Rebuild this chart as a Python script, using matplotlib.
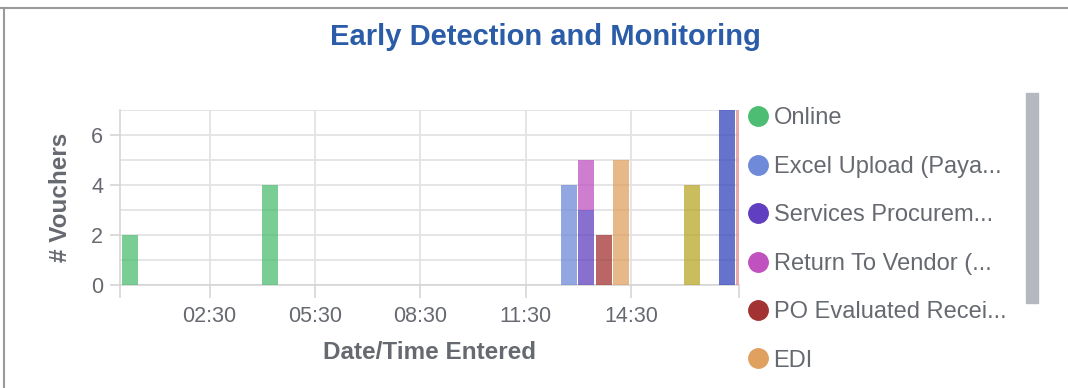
import matplotlib
matplotlib.use('Agg')
import matplotlib.pyplot as plt
from matplotlib.lines import Line2D
from matplotlib.ticker import FixedLocator, FuncFormatter

plt.rcParams['font.family'] = ['Liberation Sans', 'DejaVu Sans']

# vouchers entered per half-hour slot, one list pair per source
online_times = ['00:00', '04:00']
online_counts = [2, 4]
excel_times = ['12:30']
excel_counts = [4]
services_times = ['13:00']
services_counts = [3]
rtv_times = ['13:00']
rtv_counts = [2]
po_times = ['13:30']
po_counts = [2]
edi_times = ['14:00']
edi_counts = [5]
other1_times = ['16:00']
other1_counts = [4]
other2_times = ['17:00']
other2_counts = [7]
other3_times = ['17:30']
other3_counts = [7]

legend_labels = ['Online', 'Excel Upload (Paya...', 'Services Procurem...',
                 'Return To Vendor (...', 'PO Evaluated Recei...', 'EDI']
series_colors = ['#4cbd72', '#6e8ad8', '#6040c0', '#c052c0', '#a33333',
                 '#e0a060', '#b8a728', '#3344bb', '#e38c8c']
x_tick_labels = ['02:30', '05:30', '08:30', '11:30', '14:30']

series = [(online_times, online_counts), (excel_times, excel_counts),
          (services_times, services_counts), (rtv_times, rtv_counts),
          (po_times, po_counts), (edi_times, edi_counts),
          (other1_times, other1_counts), (other2_times, other2_counts),
          (other3_times, other3_counts)]


def to_hours(t):
    h, m = t.split(':')
    return int(h) + int(m) / 60.0


fig = plt.figure(figsize=(10.68, 3.88), dpi=100)
ax = fig.add_axes([120 / 1068, 103 / 388, 619 / 1068, 175 / 388])

stack = {}
for (times, counts), color in zip(series, series_colors):
    xs = [to_hours(t) for t in times]
    bottoms = [stack.get(x, 0) for x in xs]
    ax.bar(xs, counts, width=0.46, bottom=bottoms, align='edge',
           color=color, alpha=0.75, linewidth=0, zorder=3)
    for x, c in zip(xs, counts):
        stack[x] = stack.get(x, 0) + c

ax.set_xlim(-0.055, 17.58)
ax.set_ylim(0, 7)

grey = '#666a70'
ax.xaxis.set_major_locator(FixedLocator([to_hours(t) for t in x_tick_labels]))
ax.xaxis.set_major_formatter(FuncFormatter(
    lambda v, p: '%02d:%02d' % (int(v), round((v - int(v)) * 60))))
ax.xaxis.set_minor_locator(FixedLocator(list(ax.get_xlim())))
ax.set_yticks([0, 2, 4, 6])
ax.yaxis.set_minor_locator(FixedLocator([1, 3, 5, 7]))

ax.tick_params(axis='x', which='both', length=9, width=1.2, color='#d5d5d5',
               labelsize=15.5, labelcolor=grey, pad=6)
ax.tick_params(axis='y', which='major', length=7, width=1.2, color='#d5d5d5',
               labelsize=15.5, labelcolor=grey, pad=5)
ax.tick_params(axis='y', which='minor', length=0)

ax.grid(axis='x', which='major', color='#e3e3e6', linewidth=1.3, zorder=0)
ax.grid(axis='y', which='both', color='#e3e3e6', linewidth=1.3, zorder=0)
for side in ['top', 'right']:
    ax.spines[side].set_visible(False)
for side in ['left', 'bottom']:
    ax.spines[side].set_color('#d5d5d5')
    ax.spines[side].set_linewidth(1.2)

ax.set_xlabel('Date/Time Entered', fontsize=17.5, fontweight='bold',
              color=grey, labelpad=10)
ax.set_ylabel('# Vouchers', fontsize=17.5, fontweight='bold',
              color=grey, labelpad=14)

fig.text(545 / 1068, 1 - 37 / 388, 'Early Detection and Monitoring',
         ha='center', va='center', fontsize=21, fontweight='bold',
         color='#2b5ca8')

handles = [Line2D([], [], marker='o', linestyle='', markersize=14,
                  markerfacecolor=c, markeredgecolor=c)
           for c in series_colors[:len(legend_labels)]]
fig.legend(handles, legend_labels, loc='upper left',
           bbox_to_anchor=(737 / 1068, 1 - 98 / 388), frameon=False,
           fontsize=17, labelcolor=grey, handletextpad=0.15,
           handlelength=1.0, labelspacing=1.12, borderaxespad=0)

# scrollbar and panel border
fig.patches.append(plt.Rectangle((1026 / 1068, 1 - 303 / 388), 12 / 1068,
                                 210 / 388, transform=fig.transFigure,
                                 color='#b5b8be', zorder=1))
fig.add_artist(Line2D([0, 1], [1 - 8 / 388, 1 - 8 / 388],
                      transform=fig.transFigure, color='#9a9a9a', lw=1.5))
fig.add_artist(Line2D([4 / 1068, 4 / 1068], [0, 1 - 8 / 388],
                      transform=fig.transFigure, color='#9a9a9a', lw=1.5))

fig.savefig('out.png', dpi=100)
